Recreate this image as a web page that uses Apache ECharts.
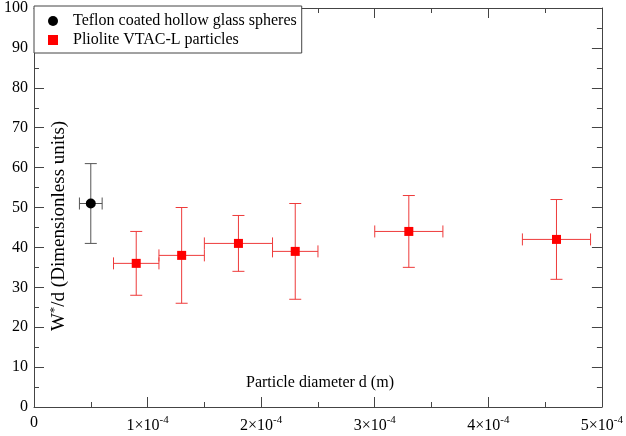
<!DOCTYPE html>
<html>
<head>
<meta charset="utf-8">
<script src="https://cdn.jsdelivr.net/npm/echarts@6/dist/echarts.min.js"></script>
<style>html,body{margin:0;padding:0;background:#fff}#c{width:626px;height:436px}</style>
</head>
<body>
<div id="c"></div>
<script>
// Data
const teflonName = 'Teflon coated hollow glass spheres';
const teflonX = [5e-5];
const teflonY = [51];
const teflonXLow = [4e-5];
const teflonXHigh = [6e-5];
const teflonYLow = [41];
const teflonYHigh = [61];

const plioName = 'Pliolite VTAC-L particles';
const plioX = [9e-5, 1.3e-4, 1.8e-4, 2.3e-4, 3.3e-4, 4.6e-4];
const plioY = [36, 38, 41, 39, 44, 42];
const plioXLow = [7e-5, 1.1e-4, 1.5e-4, 2.1e-4, 3.0e-4, 4.3e-4];
const plioXHigh = [1.1e-4, 1.5e-4, 2.1e-4, 2.5e-4, 3.6e-4, 4.9e-4];
const plioYLow = [28, 26, 34, 27, 35, 32];
const plioYHigh = [44, 50, 48, 51, 53, 52];

const xTickMantissa = ['0', '1', '2', '3', '4', '5'];
const xTickExponent = '-4';

const FONT = '"Liberation Serif", "Times New Roman", serif';

function zipErr(x, y, xl, xh, yl, yh) {
  return x.map((v, i) => [v, y[i], xl[i], xh[i], yl[i], yh[i]]);
}

function errRenderer(color) {
  return function (params, api) {
    const c = api.coord([api.value(0), api.value(1)]);
    const xl = api.coord([api.value(2), api.value(1)]);
    const xh = api.coord([api.value(3), api.value(1)]);
    const yl = api.coord([api.value(0), api.value(4)]);
    const yh = api.coord([api.value(0), api.value(5)]);
    const cap = 6;
    const st = { stroke: color, lineWidth: 1 };
    const L = (x1, y1, x2, y2) => ({ type: 'line', shape: { x1, y1, x2, y2 }, style: st });
    return {
      type: 'group',
      children: [
        L(xl[0], c[1], xh[0], c[1]),
        L(xl[0], c[1] - cap, xl[0], c[1] + cap),
        L(xh[0], c[1] - cap, xh[0], c[1] + cap),
        L(c[0], yl[1], c[0], yh[1]),
        L(c[0] - cap, yl[1], c[0] + cap, yl[1]),
        L(c[0] - cap, yh[1], c[0] + cap, yh[1])
      ]
    };
  };
}

const axisColor = '#444';
const chart = echarts.init(document.getElementById('c'), null, { renderer: 'canvas' });
function baseAxis() {
  return {
    axisLine: { show: true, onZero: false, lineStyle: { color: axisColor, width: 1 } },
    axisTick: { show: true, inside: true, length: 10, lineStyle: { color: axisColor } },
    minorTick: { show: true, splitNumber: 2, length: 5, lineStyle: { color: axisColor } },
    splitLine: { show: false },
    minorSplitLine: { show: false }
  };
}

chart.setOption({
  animation: false,
  backgroundColor: '#fff',
  grid: { left: 34, right: 20, top: 6, bottom: 29, containLabel: false },
  xAxis: [
    Object.assign(baseAxis(), {
      type: 'value', min: 0, max: 5e-4, interval: 1e-4, position: 'bottom',
      axisLabel: {
        margin: 8,
        color: '#000',
        fontFamily: FONT,
        fontSize: 16,
        formatter: function (v) {
          const i = Math.round(v / 1e-4);
          if (i === 0) return '{a|' + xTickMantissa[0] + '}';
          return '{a|' + xTickMantissa[i] + '×10}{s|' + xTickExponent + '}';
        },
        rich: {
          a: { fontFamily: FONT, fontSize: 16, color: '#000' },
          s: { fontFamily: FONT, fontSize: 11, color: '#000', verticalAlign: 'bottom', padding: [0, 0, 10, 0] }
        }
      }
    }),
    Object.assign(baseAxis(), {
      type: 'value', min: 0, max: 5e-4, interval: 1e-4, position: 'top',
      axisLabel: { show: false }
    })
  ],
  yAxis: [
    Object.assign(baseAxis(), {
      type: 'value', min: 0, max: 100, interval: 10, position: 'left',
      axisLabel: { margin: 6, color: '#000', fontFamily: FONT, fontSize: 16 }
    }),
    Object.assign(baseAxis(), {
      type: 'value', min: 0, max: 100, interval: 10, position: 'right',
      axisLabel: { show: false }
    })
  ],
  legend: {
    orient: 'vertical',
    left: 34, top: 6,
    padding: [7, 5, 5, 14],
    itemGap: 3,
    itemWidth: 10, itemHeight: 10,
    backgroundColor: '#fff',
    borderColor: axisColor, borderWidth: 1,
    textStyle: { fontFamily: FONT, fontSize: 16, color: '#000', lineHeight: 16, padding: [0, 0, 0, 10] },
    data: [
      { name: teflonName, icon: 'circle' },
      { name: plioName, icon: 'rect' }
    ],
    selectedMode: false
  },
  graphic: [
    {
      type: 'text', x: 59, y: 226, rotation: Math.PI / 2, z: 10,
      style: {
        text: '{a|W}{s|*}{a|/d (Dimensionless units)}',
        align: 'center', verticalAlign: 'middle',
        rich: {
          a: { fontFamily: FONT, fontSize: 19, fill: '#000' },
          s: { fontFamily: FONT, fontSize: 13, fill: '#000', verticalAlign: 'bottom', padding: [0, 0, 9, 0] }
        }
      }
    },
    {
      type: 'text', x: 320, y: 383, z: 10,
      style: {
        text: 'Particle diameter d (m)',
        align: 'center', verticalAlign: 'middle',
        font: '16px ' + FONT, fill: '#000'
      }
    }
  ],
  series: [
    {
      name: 'errT', type: 'custom', xAxisIndex: 0, yAxisIndex: 0,
      renderItem: errRenderer('#555'),
      encode: { x: 0, y: 1 },
      data: zipErr(teflonX, teflonY, teflonXLow, teflonXHigh, teflonYLow, teflonYHigh),
      z: 2
    },
    {
      name: 'errP', type: 'custom', xAxisIndex: 0, yAxisIndex: 0,
      renderItem: errRenderer('#ee3b3b'),
      encode: { x: 0, y: 1 },
      data: zipErr(plioX, plioY, plioXLow, plioXHigh, plioYLow, plioYHigh),
      z: 2
    },
    {
      name: teflonName, type: 'scatter', symbol: 'circle', symbolSize: 10,
      itemStyle: { color: '#000', opacity: 1 },
      data: teflonX.map((v, i) => [v, teflonY[i]]),
      z: 3
    },
    {
      name: plioName, type: 'scatter', symbol: 'rect', symbolSize: 9,
      itemStyle: { color: '#ff0000', opacity: 1 },
      data: plioX.map((v, i) => [v, plioY[i]]),
      z: 3
    }
  ]
});
</script>
</body>
</html>
